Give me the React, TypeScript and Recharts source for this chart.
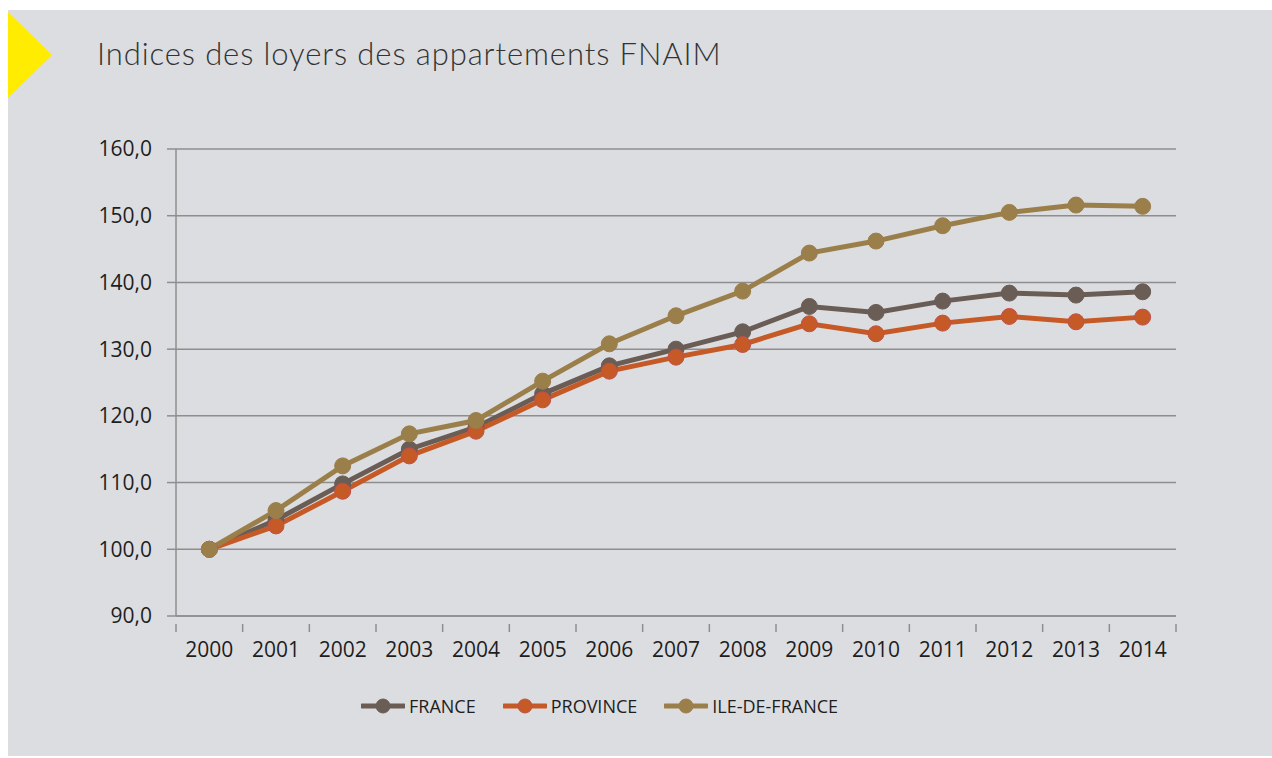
import React from "react";
import {
    LineChart,
    Line,
    XAxis,
    YAxis,
    CartesianGrid,
    Legend
} from "recharts";

const years = ["2000", "2001", "2002", "2003", "2004", "2005", "2006", "2007", "2008", "2009", "2010", "2011", "2012", "2013", "2014"];
const france = [100.0, 104.4, 109.8, 115.0, 118.3, 123.3, 127.5, 130.0, 132.6, 136.4, 135.5, 137.2, 138.4, 138.1, 138.6];
const province = [100.0, 103.5, 108.7, 114.0, 117.7, 122.4, 126.7, 128.8, 130.7, 133.8, 132.3, 133.9, 134.9, 134.1, 134.8];
const ileDeFrance = [100.0, 105.8, 112.5, 117.3, 119.3, 125.2, 130.8, 135.0, 138.7, 144.4, 146.2, 148.5, 150.5, 151.6, 151.4];
const yTicks = [90, 100, 110, 120, 130, 140, 150, 160];

const series = [
    { key: "france", name: "FRANCE", color: "#6a5d55", dotStroke: "#6a5d55" },
    { key: "province", name: "PROVINCE", color: "#c65a26", dotStroke: "#c0504d" },
    { key: "idf", name: "ILE-DE-FRANCE", color: "#9b7f4a", dotStroke: "#9b7f4a" }
];

const data = years.map((y, i) => ({
    year: y,
    france: france[i],
    province: province[i],
    idf: ileDeFrance[i]
}));

const axisFont = "'Open Sans', sans-serif";
const gridColor = "#8e8e8e";
const halfBand = 1000 / years.length / 2;

// x labels plus tick marks drawn on the band edges, like Excel does
const XTick = (props) => {
    const { x, y, payload, index } = props;
    const last = index === years.length - 1;
    return (
        <g>
            <line x1={x - halfBand} x2={x - halfBand} y1={y - 18} y2={y - 10} stroke={gridColor} strokeWidth={1.5} />
            {last && <line x1={x + halfBand} x2={x + halfBand} y1={y - 18} y2={y - 10} stroke={gridColor} strokeWidth={1.5} />}
            <text x={x} y={y} dy="0.71em" textAnchor="middle" fontSize={21} fontFamily={axisFont} fill="#1e1e1e">
                {payload.value}
            </text>
        </g>
    );
};

const renderLegend = () => (
    <div style={{ position: "absolute", left: 0, top: 0, display: "flex", alignItems: "center", fontFamily: axisFont, fontSize: 18, color: "#1e1e1e", whiteSpace: "nowrap" }}>
        {series.map((s) => (
            <div key={s.key} style={{ display: "flex", alignItems: "center", marginRight: 27 }}>
                <svg width={44} height={18} style={{ marginRight: 4 }}>
                    <line x1={1} x2={43} y1={9} y2={9} stroke={s.color} strokeWidth={5} strokeLinecap="round" />
                    <circle cx={22} cy={9} r={7} fill={s.color} stroke={s.dotStroke} strokeWidth={1} />
                </svg>
                <span>{s.name}</span>
            </div>
        ))}
    </div>
);

export default function App() {
    return (
        <div style={{ position: "absolute", left: 8, top: 10, width: 1264, height: 746, background: "#dcdde0", overflow: "hidden" }}>
            <svg width={60} height={100} style={{ position: "absolute", left: 0, top: 0 }}>
                <polygon points="0,2 44,45 0,88" fill="#ffec00" />
            </svg>
            <div style={{ position: "absolute", left: 89, top: 24, fontFamily: "Lato, sans-serif", fontWeight: 300, fontSize: 31, letterSpacing: 0.9, color: "#333333", whiteSpace: "nowrap" }}>
                Indices des loyers des appartements FNAIM
            </div>
            <LineChart
                width={1264}
                height={746}
                data={data}
                margin={{ top: 139, right: 96, bottom: 110, left: 0 }}
                style={{ position: "absolute", left: 0, top: 0 }}
            >
                <CartesianGrid vertical={false} stroke={gridColor} strokeWidth={1.5} />
                <XAxis
                    dataKey="year"
                    height={30}
                    stroke={gridColor}
                    strokeWidth={1.5}
                    tickLine={false}
                    tickSize={8}
                    tickMargin={18}
                    tick={<XTick />}
                    interval={0}
                    padding={{ left: halfBand, right: halfBand }}
                />
                <YAxis
                    domain={[90, 160]}
                    ticks={yTicks}
                    type="number"
                    width={168}
                    stroke={gridColor}
                    strokeWidth={1.5}
                    tickSize={9}
                    tickMargin={15}
                    tick={{ fontSize: 21, fontFamily: axisFont, fill: "#1e1e1e" }}
                    tickFormatter={(v) => v.toFixed(1).replace(".", ",")}
                />
                <Legend
                    layout="horizontal"
                    verticalAlign="middle"
                    content={renderLegend}
                    wrapperStyle={{ position: "absolute", left: 353, top: 684, width: 0, height: 0, overflow: "visible" }}
                />
                {series.map((s) => (
                    <Line
                        key={s.key}
                        type="linear"
                        dataKey={s.key}
                        name={s.name}
                        stroke={s.color}
                        strokeWidth={5}
                        dot={{ r: 8, fill: s.color, stroke: s.dotStroke, strokeWidth: 1 }}
                        isAnimationActive={false}
                    />
                ))}
            </LineChart>
        </div>
    );
}
